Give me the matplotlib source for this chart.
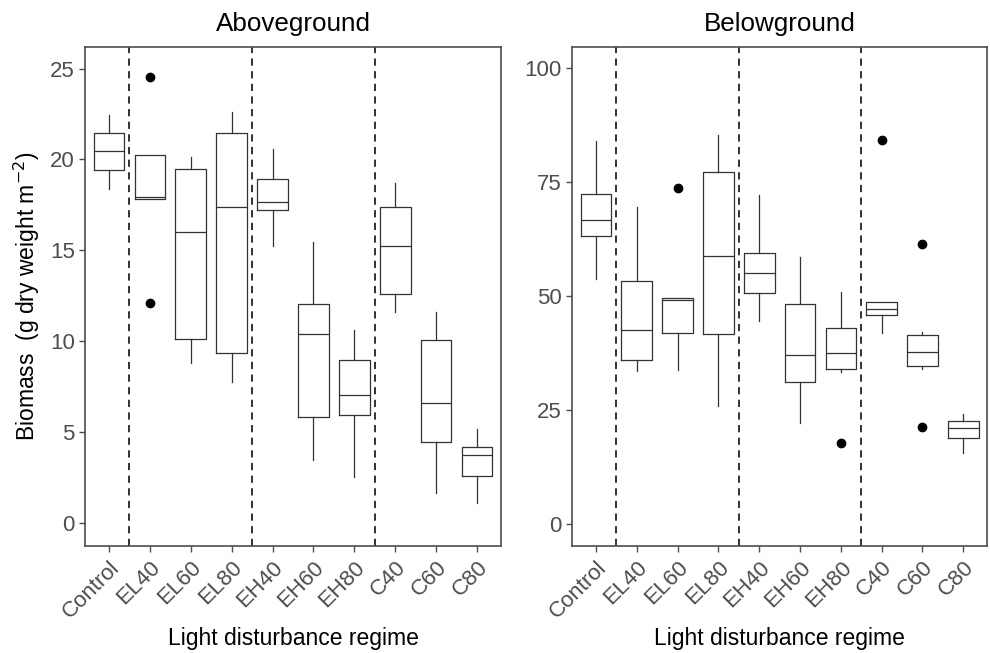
import matplotlib
matplotlib.use("Agg")
import matplotlib.pyplot as plt

plt.rcParams["font.family"] = ["Liberation Sans", "DejaVu Sans"]

groups = ["Control", "EL40", "EL60", "EL80", "EH40", "EH60", "EH80", "C40", "C60", "C80"]

# aboveground biomass (g dry weight m-2): whisker low, q1, median, q3, whisker high
above_wlo = [18.4, 17.8, 8.8, 7.75, 15.25, 3.5, 2.55, 11.6, 1.65, 1.1]
above_q1  = [19.4, 17.8, 10.15, 9.37, 17.2, 5.85, 5.95, 12.6, 4.45, 2.58]
above_med = [20.45, 17.95, 16.0, 17.4, 17.65, 10.4, 7.03, 15.25, 6.6, 3.75]
above_q3  = [21.45, 20.25, 19.45, 21.45, 18.9, 12.05, 8.97, 17.4, 10.05, 4.18]
above_whi = [22.45, 20.25, 20.15, 22.6, 20.57, 15.45, 10.62, 18.7, 11.63, 5.16]
above_out = [[], [24.55, 12.1], [], [], [], [], [], [], [], []]

# belowground biomass
below_wlo = [53.7, 33.6, 33.8, 26.0, 44.6, 22.2, 33.4, 41.8, 34.1, 15.6]
below_q1  = [63.2, 36.0, 42.0, 41.6, 50.7, 31.1, 34.0, 45.8, 34.6, 18.8]
below_med = [66.7, 42.5, 49.1, 58.8, 55.1, 37.1, 37.6, 47.2, 37.8, 21.1]
below_q3  = [72.3, 53.4, 49.6, 77.3, 59.5, 48.2, 43.0, 48.7, 41.5, 22.7]
below_whi = [84.0, 69.6, 49.6, 85.4, 72.2, 58.6, 50.8, 48.7, 42.2, 24.2]
below_out = [[], [], [73.6], [], [], [], [17.7], [84.3], [61.5, 21.3], []]

separators = [1.5, 4.5, 7.5]


def make_stats(wlo, q1, med, q3, whi, out):
    return [dict(whislo=a, q1=b, med=c, q3=d, whishi=e, fliers=f)
            for a, b, c, d, e, f in zip(wlo, q1, med, q3, whi, out)]


def draw_panel(ax, stats, title, ylim, yticks):
    col = "#333333"
    ax.bxp(stats, positions=range(1, len(groups) + 1), widths=0.75,
           boxprops=dict(color=col, lw=0.9),
           whiskerprops=dict(color=col, lw=0.9),
           medianprops=dict(color=col, lw=0.9),
           capprops=dict(lw=0),
           showcaps=False,
           flierprops=dict(marker="o", markerfacecolor="black",
                           markeredgecolor="black", markersize=6))
    for x in separators:
        ax.axvline(x, color="#222222", lw=1.3, ls=(0, (4, 3)))
    ax.set_xlim(0.42, 10.59)
    ax.set_ylim(*ylim)
    ax.set_yticks(yticks)
    ax.set_xticks(range(1, len(groups) + 1))
    ax.set_xticklabels(groups, rotation=45, ha="right", rotation_mode="anchor")
    ax.tick_params(colors="#4D4D4D", labelsize=16, length=4, width=1.0)
    ax.tick_params(axis="x", pad=4)
    for s in ax.spines.values():
        s.set_color("#4D4D4D")
        s.set_linewidth(1.2)
    ax.set_title(title, fontsize=18.7, pad=11)
    ax.set_xlabel("Light disturbance regime", fontsize=16.5, labelpad=3)


fig = plt.figure(figsize=(9.9, 6.53), dpi=100)
ax1 = fig.add_axes([0.0862, 0.1639, 0.4200, 0.7646])
ax2 = fig.add_axes([0.5781, 0.1639, 0.4192, 0.7646])

draw_panel(ax1, make_stats(above_wlo, above_q1, above_med, above_q3, above_whi, above_out),
           "Aboveground", (-1.25, 26.2), [0, 5, 10, 15, 20, 25])
draw_panel(ax2, make_stats(below_wlo, below_q1, below_med, below_q3, below_whi, below_out),
           "Belowground", (-4.8, 104.7), [0, 25, 50, 75, 100])

ax1.set_ylabel("Biomass  (g dry weight m$^{-2}$)", fontsize=16.5, labelpad=6)

fig.savefig("out.png", dpi=100)
